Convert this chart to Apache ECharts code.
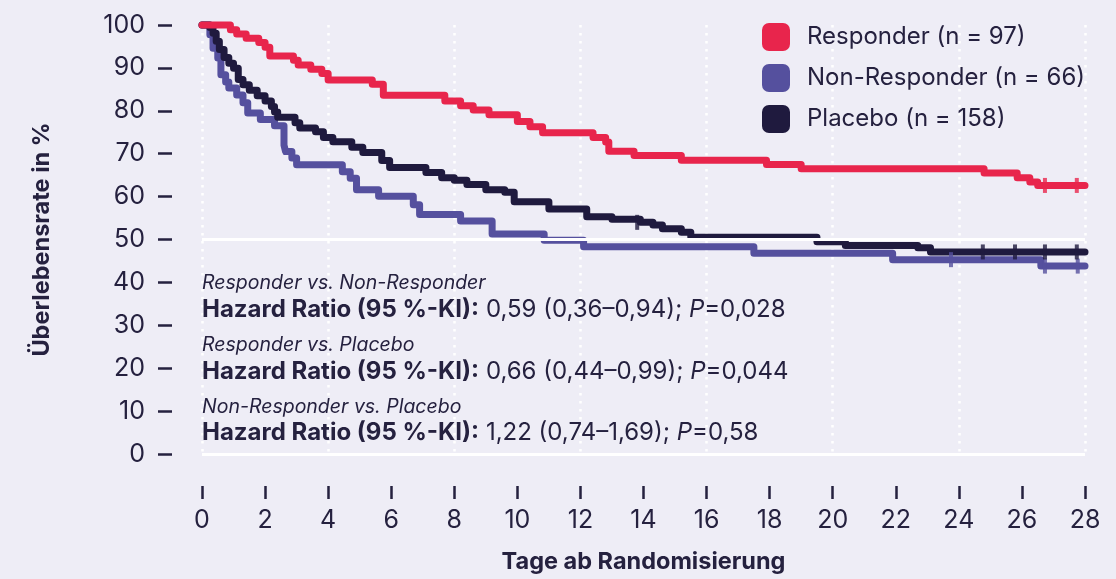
<!DOCTYPE html>
<html>
<head>
<meta charset="utf-8">
<script src="https://cdn.jsdelivr.net/npm/echarts@6/dist/echarts.min.js"></script>
<style>
  html, body { margin: 0; padding: 0; background: #eeedf6; }
  #chart { width: 1116px; height: 579px; }
</style>
</head>
<body>
<div id="chart"></div>
<script>
// Kaplan-Meier curves: event time (days) and survival (%) after the event
const respTime = [0, 0.9, 1.1, 1.4, 1.8, 2.0, 2.15, 2.9, 3.05, 3.45, 3.8, 4.0, 5.4, 5.75, 7.7, 8.2, 8.6, 9.1, 10.0, 10.4, 10.8, 12.4, 12.8, 12.9, 13.7, 15.2, 17.9, 19.0, 24.8, 25.85, 26.25, 26.5, 28]
const respSurv = [100, 98.9, 97.9, 96.9, 95.9, 94.8, 92.8, 91.8, 90.7, 89.7, 88.7, 87.2, 86.2, 83.6, 82.3, 81.2, 80.2, 79.1, 77.5, 76.3, 74.9, 73.8, 72.7, 70.6, 69.6, 68.5, 67.5, 66.5, 65.5, 64.4, 63.4, 62.6, 62.6]

const nonTime = [0, 0.25, 0.35, 0.5, 0.6, 0.75, 0.85, 1.1, 1.3, 1.45, 1.85, 2.3, 2.6, 2.65, 2.85, 3.0, 4.45, 4.7, 4.9, 5.6, 6.7, 6.9, 8.2, 9.2, 10.85, 12.1, 17.5, 21.9, 26.6, 28]
const nonSurv = [100, 97.7, 94.6, 92.3, 88.4, 86.7, 85.3, 83.7, 81.9, 79.5, 78.0, 76.5, 72.0, 70.5, 69.0, 67.4, 65.8, 64.3, 61.6, 60.1, 58.1, 55.8, 54.3, 51.3, 49.8, 48.3, 46.8, 45.3, 43.8, 43.8]

const placTime = [0, 0.25, 0.35, 0.45, 0.55, 0.7, 0.85, 1.0, 1.15, 1.3, 1.5, 1.75, 2.0, 2.2, 2.3, 2.4, 2.95, 3.1, 3.6, 3.85, 4.15, 4.75, 5.1, 5.7, 5.95, 7.1, 7.6, 8.0, 8.4, 9.0, 9.6, 9.9, 11.0, 12.2, 13.0, 13.9, 14.3, 14.6, 15.2, 15.5, 19.5, 20.4, 22.7, 23.1, 28]
const placSurv = [100, 99.4, 98.1, 96.2, 94.3, 92.4, 91.1, 89.9, 87.3, 86.1, 84.8, 83.5, 82.3, 81.0, 79.7, 78.5, 77.2, 76.0, 75.1, 73.8, 72.8, 71.5, 70.3, 68.4, 66.8, 65.6, 64.4, 63.8, 62.8, 61.6, 61.0, 58.8, 57.1, 55.3, 54.7, 54.0, 53.4, 52.5, 51.7, 50.5, 49.5, 48.6, 48.1, 47.1, 47.1]

// censored observations
const respCensTime = [26.73, 27.74]
const respCensSurv = [62.6, 62.6]
const nonCensTime = [23.75, 26.73, 27.77]
const nonCensSurv = [45.3, 43.8, 43.8]
const placCensTime = [13.8, 24.76, 25.78, 26.73, 27.74]
const placCensSurv = [54.0, 47.1, 47.1, 47.1, 47.1]

const groupNames = ['Responder (n = 97)', 'Non-Responder (n = 66)', 'Placebo (n = 158)']
const xTicks = [0, 2, 4, 6, 8, 10, 12, 14, 16, 18, 20, 22, 24, 26, 28]
const yTicks = [0, 10, 20, 30, 40, 50, 60, 70, 80, 90, 100]
const gridLinesX = [0, 4, 8, 12, 16, 20, 24, 28]
const whiteLinesY = [0, 50]

const comparisons = ['Responder vs. Non-Responder', 'Responder vs. Placebo', 'Non-Responder vs. Placebo']
const hrValues = ['0,59 (0,36–0,94); ', '0,66 (0,44–0,99); ', '1,22 (0,74–1,69); ']
const pValues = ['=0,028', '=0,044', '=0,58']

const RED = '#e8254c'
const PURPLE = '#55509e'
const DARK = '#1f1a3e'
const TEXT = '#25213f'
const FONT = 'Inter, "Noto Sans", sans-serif'

const zip = (a, b) => a.map((v, i) => [v, b[i]])

const chart = echarts.init(document.getElementById('chart'))

const kmSeries = (name, time, surv, color) => ({
  name,
  type: 'line',
  step: 'end',
  data: zip(time, surv),
  showSymbol: false,
  clip: false,
  itemStyle: { color },
  lineStyle: { color, width: 7, cap: 'round', join: 'round' },
  z: 3,
})

const censorSeries = (time, surv, color) => ({
  type: 'scatter',
  data: zip(time, surv),
  symbol: 'rect',
  symbolSize: [4, 15],
  itemStyle: { color },
  clip: false,
  silent: true,
  z: 4,
})

const annotations = []
comparisons.forEach((c, i) => {
  annotations.push({
    type: 'text',
    x: 202,
    y: 283 + i * 62,
    z: 100,
    style: {
      text: c,
      font: 'italic 19.5px ' + FONT,
      fill: TEXT,
      align: 'left',
      verticalAlign: 'middle',
    },
  })
  annotations.push({
    type: 'text',
    x: 202,
    y: 310 + i * 61.5,
    z: 100,
    style: {
      text: `{b|Hazard Ratio (95 %-KI):}{r| ${hrValues[i]}}{i|P}{r|${pValues[i]}}`,
      fill: TEXT,
      align: 'left',
      verticalAlign: 'middle',
      rich: {
        b: { fontFamily: FONT, fontSize: 24, fontWeight: 'bold', fill: TEXT },
        r: { fontFamily: FONT, fontSize: 24, fill: TEXT },
        i: { fontFamily: FONT, fontSize: 24, fontStyle: 'italic', fill: TEXT },
      },
    },
  })
})

chart.setOption({
  backgroundColor: '#eeedf6',
  animation: false,
  textStyle: { fontFamily: FONT },
  grid: { left: 202, right: 31, top: 25, bottom: 124 },
  legend: {
    data: groupNames,
    orient: 'vertical',
    left: 757,
    top: 18,
    icon: 'roundRect',
    itemWidth: 28,
    itemHeight: 28,
    itemGap: 13,
    textStyle: { color: TEXT, fontSize: 24, fontFamily: FONT, padding: [0, 0, 0, 12] },
  },
  xAxis: [
    {
      type: 'value',
      min: xTicks[0],
      max: xTicks[xTicks.length - 1],
      interval: xTicks[1] - xTicks[0],
      offset: 32,
      name: 'Tage ab Randomisierung',
      nameLocation: 'middle',
      nameGap: 64,
      nameTextStyle: { color: TEXT, fontSize: 23.5, fontWeight: 'bold', fontFamily: FONT },
      axisLine: { show: false, onZero: false },
      axisTick: { show: true, length: 13, lineStyle: { color: TEXT, width: 2.5 } },
      axisLabel: { color: TEXT, fontSize: 25, margin: 22, fontFamily: FONT },
      splitLine: { show: false },
    },
    {
      type: 'value',
      position: 'top',
      min: gridLinesX[0],
      max: gridLinesX[gridLinesX.length - 1],
      interval: gridLinesX[1] - gridLinesX[0],
      axisLine: { show: false, onZero: false },
      axisTick: { show: false },
      axisLabel: { show: false },
      splitLine: { show: true, lineStyle: { color: '#ffffff', width: 2.5, type: [2.5, 5.5] } },
    },
  ],
  yAxis: {
    type: 'value',
    min: yTicks[0],
    max: yTicks[yTicks.length - 1],
    interval: yTicks[1] - yTicks[0],
    offset: 30,
    name: 'Überlebensrate in %',
    nameLocation: 'middle',
    nameGap: 118,
    nameTextStyle: { color: TEXT, fontSize: 23.5, fontWeight: 'bold', fontFamily: FONT },
    axisLine: { show: false, onZero: false },
    axisTick: { show: true, length: 14, lineStyle: { color: TEXT, width: 2.5 } },
    axisLabel: { color: TEXT, fontSize: 25, margin: 27, fontFamily: FONT },
    splitLine: { show: false },
  },
  graphic: annotations,
  series: [
    {
      type: 'line',
      data: [],
      silent: true,
      z: 1,
      markLine: {
        silent: true,
        symbol: 'none',
        label: { show: false },
        lineStyle: { color: '#ffffff', width: 3, type: 'solid' },
        data: whiteLinesY.map((v) => ({ yAxis: v })),
      },
    },
    kmSeries(groupNames[1], nonTime, nonSurv, PURPLE),
    kmSeries(groupNames[2], placTime, placSurv, DARK),
    kmSeries(groupNames[0], respTime, respSurv, RED),
    censorSeries(nonCensTime, nonCensSurv, PURPLE),
    censorSeries(placCensTime, placCensSurv, DARK),
    censorSeries(respCensTime, respCensSurv, RED),
  ],
})
</script>
</body>
</html>
